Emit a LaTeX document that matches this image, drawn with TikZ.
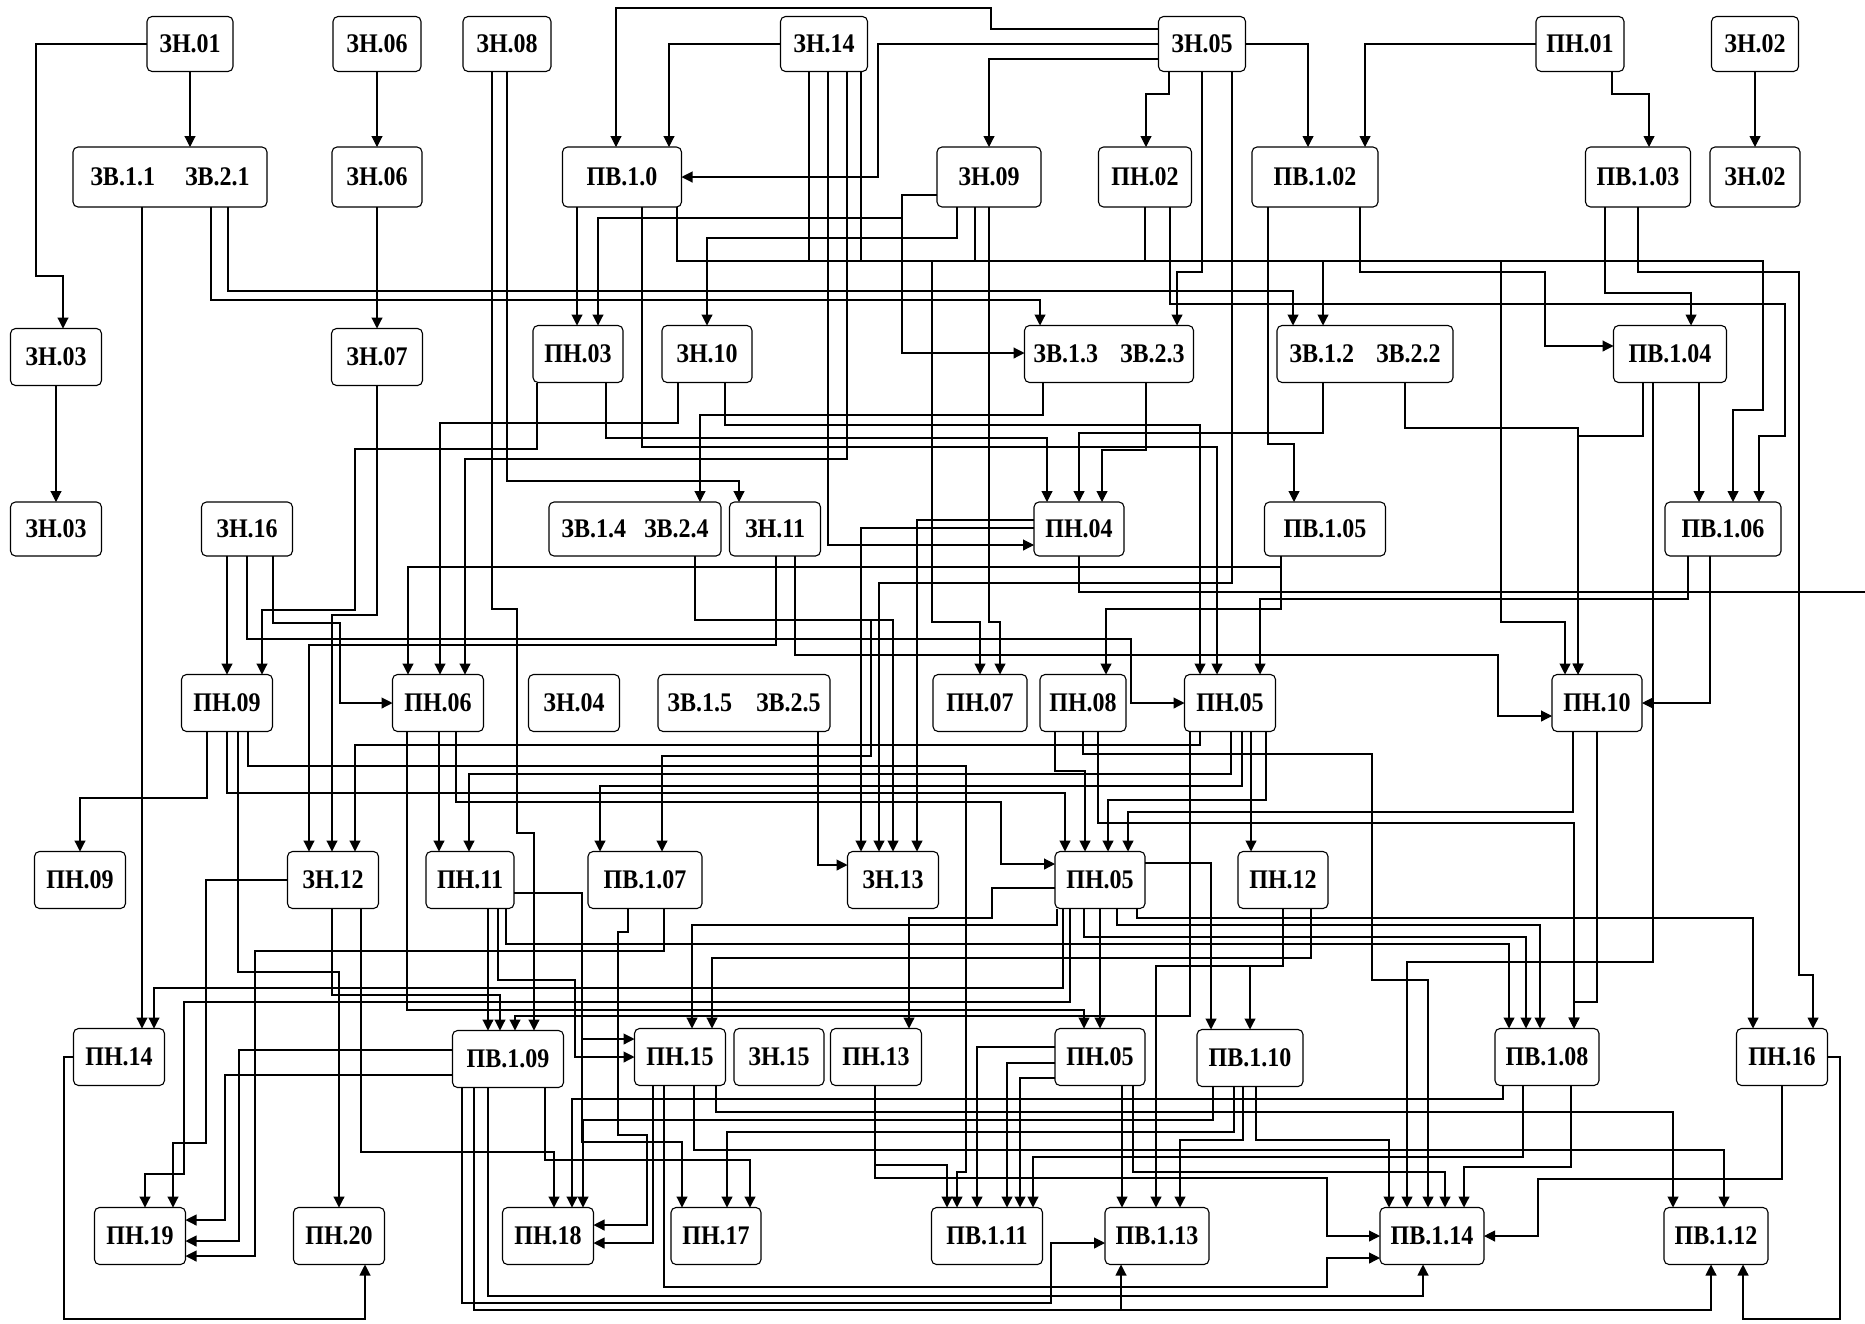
\documentclass[tikz,border=0pt]{standalone}
\usepackage{fontspec}
\usepackage{graphicx}
\setmainfont{Liberation Serif}
\usetikzlibrary{arrows.meta}
\newcommand{\nlbl}[1]{\scalebox{1}[1.12]{#1}}
\tikzset{
	blk/.style={draw, rounded corners=5pt, line width=1.1pt, minimum height=57pt,
		inner sep=0pt, outer sep=0pt, fill=white,
		font=\fontsize{24}{28}\selectfont\bfseries}
}
\tikzset{
	ln/.style={line width=1.1pt},
	arr/.style={ln, -{Triangle[length=11pt,width=11pt]}}
}

\begin{document}
\begin{tikzpicture}[x=1pt, y=-1pt]
	\path[use as bounding box] (0,0) rectangle (1865,1323);
	\coordinate (bus) at (0,261);
	\coordinate (edgeR) at (1865,592);

	% row 1
	\node[blk, minimum width=86pt, minimum height=55pt] (zn01) at (190,44) {\nlbl{ЗН.01}};
	\node[blk, minimum width=88pt, minimum height=55pt] (zn06a) at (377,44) {\nlbl{ЗН.06}};
	\node[blk, minimum width=88pt, minimum height=55pt] (zn08) at (507,44) {\nlbl{ЗН.08}};
	\node[blk, minimum width=87pt, minimum height=55pt] (zn14) at (824,44) {\nlbl{ЗН.14}};
	\node[blk, minimum width=87pt, minimum height=55pt] (zn05) at (1202,44) {\nlbl{ЗН.05}};
	\node[blk, minimum width=88pt, minimum height=55pt] (pn01) at (1580,44) {\nlbl{ПН.01}};
	\node[blk, minimum width=87pt, minimum height=55pt] (zn02a) at (1755,44) {\nlbl{ЗН.02}};
	% row 2
	\node[blk, minimum width=194pt, minimum height=60pt] (zv11) at (170,177) {\nlbl{ЗВ.1.1\hspace{30pt}ЗВ.2.1}};
	\node[blk, minimum width=90pt, minimum height=60pt] (zn06b) at (377,177) {\nlbl{ЗН.06}};
	\node[blk, minimum width=119pt, minimum height=60pt] (pv10) at (622,177) {\nlbl{ПВ.1.0}};
	\node[blk, minimum width=104pt, minimum height=60pt] (zn09) at (989,177) {\nlbl{ЗН.09}};
	\node[blk, minimum width=93pt, minimum height=60pt] (pn02) at (1145,177) {\nlbl{ПН.02}};
	\node[blk, minimum width=126pt, minimum height=60pt] (pv102) at (1315,177) {\nlbl{ПВ.1.02}};
	\node[blk, minimum width=105pt, minimum height=60pt] (pv103) at (1638,177) {\nlbl{ПВ.1.03}};
	\node[blk, minimum width=90pt, minimum height=60pt] (zn02b) at (1755,177) {\nlbl{ЗН.02}};
	% row 3
	\node[blk, minimum width=91pt] (zn03a) at (56,357) {\nlbl{ЗН.03}};
	\node[blk, minimum width=91pt] (zn07) at (377,357) {\nlbl{ЗН.07}};
	\node[blk, minimum width=90pt] (pn03) at (578,354) {\nlbl{ПН.03}};
	\node[blk, minimum width=90pt] (zn10) at (707,354) {\nlbl{ЗН.10}};
	\node[blk, minimum width=169pt] (zv13) at (1109,354) {\nlbl{ЗВ.1.3\hspace{22pt}ЗВ.2.3}};
	\node[blk, minimum width=176pt] (zv12) at (1365,354) {\nlbl{ЗВ.1.2\hspace{22pt}ЗВ.2.2}};
	\node[blk, minimum width=113pt] (pv104) at (1670,354) {\nlbl{ПВ.1.04}};
	% row 4
	\node[blk, minimum width=91pt, minimum height=54pt] (zn03b) at (56,529) {\nlbl{ЗН.03}};
	\node[blk, minimum width=91pt, minimum height=54pt] (zn16) at (247,529) {\nlbl{ЗН.16}};
	\node[blk, minimum width=172pt, minimum height=54pt] (zv14) at (635,529) {\nlbl{ЗВ.1.4\hspace{18pt}ЗВ.2.4}};
	\node[blk, minimum width=91pt, minimum height=54pt] (zn11) at (775,529) {\nlbl{ЗН.11}};
	\node[blk, minimum width=90pt, minimum height=54pt] (pn04) at (1079,529) {\nlbl{ПН.04}};
	\node[blk, minimum width=121pt, minimum height=54pt] (pv105) at (1325,529) {\nlbl{ПВ.1.05}};
	\node[blk, minimum width=116pt, minimum height=54pt] (pv106) at (1723,529) {\nlbl{ПВ.1.06}};
	% row 5
	\node[blk, minimum width=91pt] (pn09a) at (227,703) {\nlbl{ПН.09}};
	\node[blk, minimum width=91pt] (pn06) at (438,703) {\nlbl{ПН.06}};
	\node[blk, minimum width=91pt] (zn04) at (574,703) {\nlbl{ЗН.04}};
	\node[blk, minimum width=172pt] (zv15) at (744,703) {\nlbl{ЗВ.1.5\hspace{24pt}ЗВ.2.5}};
	\node[blk, minimum width=94pt] (pn07) at (980,703) {\nlbl{ПН.07}};
	\node[blk, minimum width=86pt] (pn08) at (1083,703) {\nlbl{ПН.08}};
	\node[blk, minimum width=91pt] (pn05a) at (1230,703) {\nlbl{ПН.05}};
	\node[blk, minimum width=90pt] (pn10) at (1597,703) {\nlbl{ПН.10}};
	% row 6
	\node[blk, minimum width=91pt] (pn09b) at (80,880) {\nlbl{ПН.09}};
	\node[blk, minimum width=91pt] (zn12) at (333,880) {\nlbl{ЗН.12}};
	\node[blk, minimum width=88pt] (pn11) at (470,880) {\nlbl{ПН.11}};
	\node[blk, minimum width=114pt] (pv107) at (645,880) {\nlbl{ПВ.1.07}};
	\node[blk, minimum width=91pt] (zn13) at (893,880) {\nlbl{ЗН.13}};
	\node[blk, minimum width=90pt] (pn05b) at (1100,880) {\nlbl{ПН.05}};
	\node[blk, minimum width=90pt] (pn12) at (1283,880) {\nlbl{ПН.12}};
	% row 7
	\node[blk, minimum width=91pt] (pn14) at (119,1057) {\nlbl{ПН.14}};
	\node[blk, minimum width=111pt] (pv109) at (508,1059) {\nlbl{ПВ.1.09}};
	\node[blk, minimum width=91pt] (pn15) at (680,1057) {\nlbl{ПН.15}};
	\node[blk, minimum width=90pt] (zn15) at (779,1057) {\nlbl{ЗН.15}};
	\node[blk, minimum width=91pt] (pn13) at (876,1057) {\nlbl{ПН.13}};
	\node[blk, minimum width=90pt] (pn05c) at (1100,1057) {\nlbl{ПН.05}};
	\node[blk, minimum width=106pt] (pv110) at (1250,1058) {\nlbl{ПВ.1.10}};
	\node[blk, minimum width=104pt] (pv108) at (1547,1057) {\nlbl{ПВ.1.08}};
	\node[blk, minimum width=91pt] (pn16) at (1782,1057) {\nlbl{ПН.16}};
	% row 8
	\node[blk, minimum width=91pt] (pn19) at (140,1236) {\nlbl{ПН.19}};
	\node[blk, minimum width=91pt] (pn20) at (339,1236) {\nlbl{ПН.20}};
	\node[blk, minimum width=91pt] (pn18) at (548,1236) {\nlbl{ПН.18}};
	\node[blk, minimum width=90pt] (pn17) at (716,1236) {\nlbl{ПН.17}};
	\node[blk, minimum width=111pt] (pv111) at (987,1236) {\nlbl{ПВ.1.11}};
	\node[blk, minimum width=104pt] (pv113) at (1157,1236) {\nlbl{ПВ.1.13}};
	\node[blk, minimum width=104pt] (pv114) at (1432,1236) {\nlbl{ПВ.1.14}};
	\node[blk, minimum width=104pt] (pv112) at (1716,1236) {\nlbl{ПВ.1.12}};

	% top rows
	\draw[arr] (zn01.south) -- (zv11.north -| zn01.south);
	\draw[arr] (zn01.west) -| (36,276) -| (zn03a.north -| 63,0);
	\draw[arr] (zn06a) -- (zn06b);
	\draw[arr] (zn06b) -- (zn07);
	\draw[arr] (zn02a) -- (zn02b);
	\draw[arr] (zn03a) -- (zn03b);
	\draw[arr] (zn05.west |- 0,29) -| (991,8) -| (pv10.north -| 616,0);
	\draw[arr] (zn14.west) -| (pv10.north -| 669,0);
	\draw[arr] (zn05.west) -| (878,177) -- (pv10.east);
	\draw[arr] (zn05.west |- 0,59) -| (zn09.north -| 989,0);
	\draw[arr] (zn05.south -| 1169,0) |- (1146,94) -- (pn02.north -| 1146,0);
	\draw[arr] (zn05.east) -| (pv102.north -| 1308,0);
	\draw[arr] (pn01.west) -| (pv102.north -| 1365,0);
	\draw[arr] (pn01.south -| 1612,0) |- (1649,94) -- (pv103.north -| 1649,0);
	\draw[arr] (pv10.south -| 577,0) -- (pn03.north -| 577,0);
	\draw[arr] (zn09.west |- 0,195) -| (902,218) -| (pn03.north -| 598,0);
	\draw[arr] (zn09.west |- 0,195) -| (902,353) -- (zv13.west |- 0,353);
	\draw[arr] (zn09.south -| 957,0) |- (707,238) -- (zn10.north -| 707,0);
	\draw[arr] (zv11.south -| 211,0) |- (1040,300) -- (zv13.north -| 1040,0);
	\draw[arr] (zv11.south -| 228,0) |- (1293,291) -- (zv12.north -| 1293,0);
	\draw[arr] (zn05.south -| 1202,0) |- (1177,272) -- (zv13.north -| 1177,0);
	\draw[arr] (pv10.south -| 677,0) |- (1323,261) -- (zv12.north -| 1323,0);
	\draw[arr] (pv10.south -| 677,0) |- (1763,261) |- (1733,410) -- (pv106.north -| 1733,0);
	\draw[arr] (pv10.south -| 677,0) |- (932,261) |- (980,622) -- (pn07.north -| 980,0);
	\draw[arr] (pv10.south -| 677,0) |- (1501,261) |- (1565,622) -- (pn10.north -| 1565,0);
	\draw[ln] (zn14.south -| 809,0) -- (809,0 |- bus);
	\draw[ln] (zn14.south -| 861,0) -- (861,0 |- bus);
	\draw[ln] (zn09.south -| 975,0) -- (975,0 |- bus);
	\draw[ln] (pn02.south -| 1145,0) -- (1145,0 |- bus);
	\draw[arr] (pv103.south -| 1605,0) |- (1691,293) -- (pv104.north -| 1691,0);
	\draw[arr] (pv102.south -| 1360,0) |- (1545,272) |- (pv104.west |- 0,346);
	\draw[arr] (pv104.south -| 1699,0) -- (pv106.north -| 1699,0);
	\draw[arr] (pn02.south -| 1170,0) |- (1785,304) |- (1759,436) -- (pv106.north -| 1759,0);
	\draw[arr] (pv103.south -| 1638,0) |- (1799,272) |- (1813,975) -- (pn16.north -| 1813,0);

	% to row 4 and row 5
	\draw[arr] (zv13.south -| 1043,0) |- (700,415) -- (zv14.north -| 700,0);
	\draw[arr] (zn08.south -| 507,0) |- (739,481) -- (zn11.north -| 739,0);
	\draw[arr] (pn03.south -| 606,0) |- (1047,438) -- (pn04.north -| 1047,0);
	\draw[arr] (zv12.south -| 1323,0) |- (1079,433) -- (pn04.north -| 1079,0);
	\draw[arr] (zv13.south -| 1146,0) |- (1102,450) -- (pn04.north -| 1102,0);
	\draw[arr] (zn14.south -| 828,0) |- (pn04.west |- 0,545);
	\draw[arr] (pv102.south -| 1268,0) |- (1294,444) -- (pv105.north -| 1294,0);
	\draw[arr] (pv10.south -| 642,0) |- (1217,447) -- (pn05a.north -| 1217,0);
	\draw[arr] (zn16.south -| 227,0) -- (pn09a.north -| 227,0);
	\draw[arr] (pn03.south -| 537,0) |- (355,449) |- (262,610) -- (pn09a.north -| 262,0);
	\draw[arr] (pv105.south -| 1281,0) |- (408,567) -- (pn06.north -| 408,0);
	\draw[arr] (zn10.south -| 678,0) |- (440,423) -- (pn06.north -| 440,0);
	\draw[arr] (zn14.south -| 847,0) |- (465,459) -- (pn06.north -| 465,0);
	\draw[arr] (zn16.south -| 273,0) |- (340,623) |- (pn06.west);
	\draw[arr] (zn09.south -| 989,0) |- (1000,622) -- (pn07.north -| 1000,0);
	\draw[arr] (pv105.south -| 1281,0) |- (1106,609) -- (pn08.north -| 1106,0);
	\draw[arr] (zn10.south -| 725,0) |- (1200,425) -- (pn05a.north -| 1200,0);
	\draw[arr] (pv106.south -| 1688,0) |- (1260,599) -- (pn05a.north -| 1260,0);
	\draw[arr] (zn16.south -| 247,0) |- (1131,639) |- (pn05a.west);
	\draw[arr] (zv12.south -| 1405,0) |- (1578,428) -- (pn10.north -| 1578,0);
	\draw[arr] (pv104.south -| 1643,0) |- (1578,436) -- (pn10.north -| 1578,0);
	\draw[arr] (zn11.south -| 795,0) |- (1498,655) |- (pn10.west |- 0,716);
	\draw[arr] (pv106.south -| 1710,0) |- (pn10.east);
	\draw[ln] (pn04.south -| 1079,0) |- (edgeR);

	% to row 6
	\draw[arr] (pn09a.south -| 207,0) |- (80,798) -- (pn09b.north -| 80,0);
	\draw[arr] (zn11.south -| 776,0) |- (309,645) -- (zn12.north -| 309,0);
	\draw[arr] (zn07.south -| 377,0) |- (332,615) -- (zn12.north -| 332,0);
	\draw[arr] (pn05a.south -| 1200,0) |- (355,745) -- (zn12.north -| 355,0);
	\draw[arr] (pn06.south -| 439,0) -- (pn11.north -| 439,0);
	\draw[arr] (pn05a.south -| 1231,0) |- (469,774) -- (pn11.north -| 469,0);
	\draw[arr] (pn05a.south -| 1242,0) |- (600,786) -- (pv107.north -| 600,0);
	\draw[arr] (zv14.south -| 695,0) |- (871,620) |- (662,756) -- (pv107.north -| 662,0);
	\draw[arr] (zv14.south -| 695,0) |- (893,620) -- (zn13.north -| 893,0);
	\draw[arr] (pn04.west |- 0,528) -| (zn13.north -| 861,0);
	\draw[arr] (pn04.west |- 0,520) -| (zn13.north -| 917,0);
	\draw[arr] (zn05.south -| 1232,0) |- (879,583) -- (zn13.north -| 879,0);
	\draw[arr] (zv15.south -| 818,0) |- (zn13.west |- 0,865);
	\draw[arr] (pn09a.south -| 227,0) |- (1065,793) -- (pn05b.north -| 1065,0);
	\draw[arr] (pn08.south -| 1055,0) |- (1085,771) -- (pn05b.north -| 1085,0);
	\draw[arr] (pn05a.south -| 1266,0) |- (1108,800) -- (pn05b.north -| 1108,0);
	\draw[arr] (pn10.south -| 1573,0) |- (1128,812) -- (pn05b.north -| 1128,0);
	\draw[arr] (pn06.south -| 456,0) |- (1001,802) |- (pn05b.west |- 0,864);
	\draw[arr] (pn05a.south -| 1251,0) -- (pn12.north -| 1251,0);
	\draw[arr] (pn08.south -| 1083,0) |- (1372,754) |- (1428,980) -- (pv114.north -| 1428,0);
	\draw[arr] (pn08.south -| 1098,0) |- (1574,823) -- (pv108.north -| 1574,0);
	\draw[arr] (pn10.south -| 1597,0) |- (1574,1002) -- (pv108.north -| 1574,0);
	\draw[arr] (pv104.south -| 1653,0) |- (1407,962) -- (pv114.north -| 1407,0);

	% to row 7
	\draw[arr] (zv11.south -| 142,0) -- (pn14.north -| 142,0);
	\draw[arr] (pn05b.south -| 1063,0) |- (154,988) -- (pn14.north -| 154,0);
	\draw[arr] (pn11.south -| 488,0) -- (pv109.north -| 488,0);
	\draw[arr] (zn12.south -| 332,0) |- (500,995) -- (pv109.north -| 500,0);
	\draw[arr] (pn05a.south -| 1190,0) |- (515,1016) -- (pv109.north -| 515,0);
	\draw[arr] (zn08.south -| 492,0) |- (517,609) |- (534,833) -- (pv109.north -| 534,0);
	\draw[arr] (pn05b.south -| 1057,0) |- (692,925) -- (pn15.north -| 692,0);
	\draw[arr] (pn12.south -| 1311,0) |- (712,958) -- (pn15.north -| 712,0);
	\draw[arr] (pn11.east |- 0,893) -| (582,1039) -- (pn15.west |- 0,1039);
	\draw[arr] (pn11.south -| 498,0) |- (575,980) |- (pn15.west |- 0,1057);
	\draw[arr] (pn05b.west |- 0,888) -| (992,918) -| (pn13.north -| 909,0);
	\draw[arr] (pn05b.south -| 1100,0) -- (pn05c.north -| 1100,0);
	\draw[arr] (pn06.south -| 407,0) |- (1084,1010) -- (pn05c.north -| 1084,0);
	\draw[arr] (pn05b.east |- 0,863) -| (pv110.north -| 1211,0);
	\draw[arr] (pn12.south -| 1283,0) |- (1250,966) -- (pv110.north -| 1250,0);
	\draw[arr] (pn11.south -| 506,0) |- (1509,944) -- (pv108.north -| 1509,0);
	\draw[arr] (pn05b.south -| 1084,0) |- (1526,937) -- (pv108.north -| 1526,0);
	\draw[arr] (pn05b.south -| 1117,0) |- (1540,925) -- (pv108.north -| 1540,0);
	\draw[arr] (pn05b.south -| 1137,0) |- (1753,918) -- (pn16.north -| 1753,0);

	% to row 8
	\draw[arr] (pn05b.south -| 1070,0) |- (184,1002) |- (145,1174) -- (pn19.north -| 145,0);
	\draw[arr] (zn12.west) -| (206,1143) -| (pn19.north -| 173,0);
	\draw[arr] (pv109.west |- 0,1075) -| (225,1220) -- (pn19.east |- 0,1220);
	\draw[arr] (pv109.west |- 0,1050) -| (239,1241) -- (pn19.east |- 0,1241);
	\draw[arr] (pv107.south -| 664,0) |- (255,951) |- (pn19.east |- 0,1256);
	\draw[arr] (pn09a.south -| 238,0) |- (339,972) -- (pn20.north -| 339,0);
	\draw[arr] (pn14.west) -| (64,1319) -| (pn20.south -| 365,0);
	\draw[arr] (zn12.south -| 361,0) |- (554,1152) -- (pn18.north -| 554,0);
	\draw[arr] (pv108.south -| 1503,0) |- (572,1099) -- (pn18.north -| 572,0);
	\draw[arr] (pv110.south -| 1213,0) |- (583,1120) -- (pn18.north -| 583,0);
	\draw[arr] (pv107.south -| 628,0) |- (618,932) |- (647,1135) |- (pn18.east |- 0,1225);
	\draw[arr] (pn15.south -| 653,0) |- (pn18.east |- 0,1243);
	\draw[arr] (pn11.east |- 0,893) -| (582,1142) -| (pn17.north -| 682,0);
	\draw[arr] (pv110.south -| 1234,0) |- (727,1132) -- (pn17.north -| 727,0);
	\draw[arr] (pv109.south -| 545,0) |- (750,1160) -- (pn17.north -| 750,0);
	\draw[arr] (pn13.south -| 875,0) |- (947,1165) -- (pv111.north -| 947,0);
	\draw[arr] (pn09a.south -| 248,0) |- (966,766) |- (957,1172) -- (pv111.north -| 957,0);
	\draw[arr] (pn05c.west |- 0,1047) -| (pv111.north -| 977,0);
	\draw[arr] (pn05c.west |- 0,1063) -| (pv111.north -| 1007,0);
	\draw[arr] (pn05c.west |- 0,1078) -| (pv111.north -| 1020,0);
	\draw[arr] (pv108.south -| 1523,0) |- (1033,1157) -- (pv111.north -| 1033,0);
	\draw[arr] (pn05c.south -| 1122,0) -- (pv113.north -| 1122,0);
	\draw[arr] (pn12.south -| 1283,0) |- (1156,966) -- (pv113.north -| 1156,0);
	\draw[arr] (pv110.south -| 1243,0) |- (1180,1140) -- (pv113.north -| 1180,0);
	\draw[arr] (pv109.south -| 462,0) |- (1051,1303) |- (pv113.west |- 0,1243);
	\draw[arr] (pv109.south -| 474,0) |- (1121,1310) -- (pv113.south -| 1121,0);
	\draw[arr] (pv110.south -| 1256,0) |- (1389,1140) -- (pv114.north -| 1389,0);
	\draw[arr] (pn05c.south -| 1133,0) |- (1445,1172) -- (pv114.north -| 1445,0);
	\draw[arr] (pv108.south -| 1571,0) |- (1464,1167) -- (pv114.north -| 1464,0);
	\draw[arr] (pn13.south -| 875,0) |- (1327,1178) |- (pv114.west |- 0,1236);
	\draw[arr] (pn15.south -| 664,0) |- (1327,1287) |- (pv114.west |- 0,1258);
	\draw[arr] (pn16.south -| 1782,0) |- (1538,1179) |- (pv114.east |- 0,1236);
	\draw[arr] (pv109.south -| 488,0) |- (1423,1296) -- (pv114.south -| 1423,0);
	\draw[arr] (pn15.south -| 716,0) |- (1673,1112) -- (pv112.north -| 1673,0);
	\draw[arr] (pn15.south -| 694,0) |- (1724,1150) -- (pv112.north -| 1724,0);
	\draw[arr] (pv109.south -| 474,0) |- (1711,1310) -- (pv112.south -| 1711,0);
	\draw[arr] (pn16.east) -| (1840,1319) -| (pv112.south -| 1743,0);
\end{tikzpicture}
\end{document}
